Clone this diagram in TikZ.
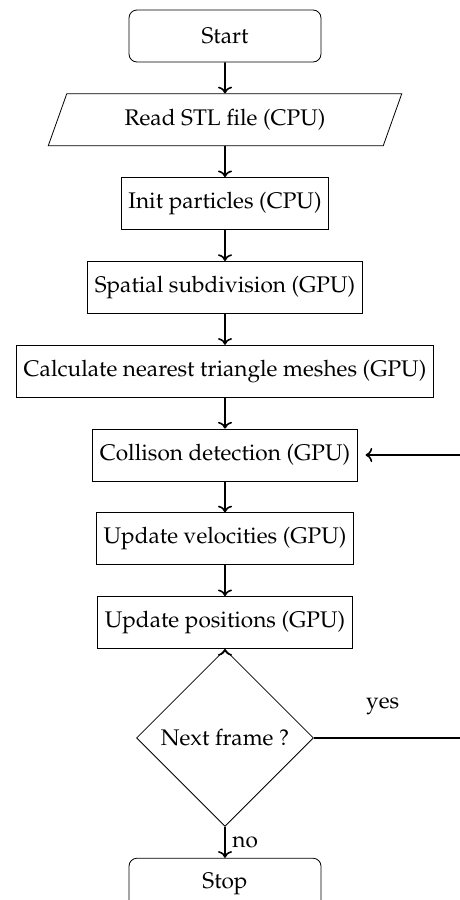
\documentclass[tikz,border=0pt]{standalone}
\usepackage[T1]{fontenc}
\usepackage{mathpazo}
\usepackage{tikz}
\usetikzlibrary{arrows.meta, positioning, shapes.geometric}

\begin{document}
\begin{tikzpicture}[font=\fontsize{11.3pt}{13.5pt}\selectfont, node distance=15.5pt,
            terminal/.style={draw, rounded corners=4pt, minimum width=96pt, minimum height=26pt},
            process/.style={draw, minimum height=26pt, inner sep=3.5pt},
            io/.style={draw, trapezium, trapezium left angle=70, trapezium right angle=110,
                       trapezium stretches=true, minimum width=177pt, minimum height=26pt},
            decision/.style={draw, diamond, aspect=1, minimum width=88.5pt, minimum height=88.5pt, inner sep=1pt}]

            % page frame
            \useasboundingbox (0,0) rectangle (230pt,-450pt);
            \clip (0,0) rectangle (230pt,-450pt);

            % main chain of steps
            \node[terminal] (start) at (112.5pt,-18pt) {Start};
            \node[io, below=of start] (read) {Read STL file (CPU)};
            \node[process, below=of read] (init) {Init particles (CPU)};
            \node[process, below=of init] (subdiv) {Spatial subdivision (GPU)};
            \node[process, below=of subdiv] (nearest) {Calculate nearest triangle meshes (GPU)};
            \node[process, below=of nearest] (collide) {Collison detection (GPU)};
            \node[process, below=of collide] (velocity) {Update velocities (GPU)};
            \node[process, below=of velocity] (position) {Update positions (GPU)};
            \node[decision, below=0pt of position] (nextframe) {Next frame ?};
            \node[terminal, below=of nextframe] (stop) {Stop};

            % arrows
            \draw[->, thick] (start) -- (read);
            \draw[->, thick] (read) -- (init);
            \draw[->, thick] (init) -- (subdiv);
            \draw[->, thick] (subdiv) -- (nearest);
            \draw[->, thick] (nearest) -- (collide);
            \draw[->, thick] (collide) -- (velocity);
            \draw[->, thick] (velocity) -- (position);
            \draw[->, thick] ([yshift=-1pt]nextframe.north) -- (position.south);
            \draw[->, thick] (nextframe) -- node[midway, right] {no} (stop);

            % loop back to collision detection
            \draw[->, thick, shorten >=4pt] (nextframe.east) -- node[pos=0.43, above=8pt] {yes} ++(80pt,0) |- (collide.east);
        \end{tikzpicture}
\end{document}
